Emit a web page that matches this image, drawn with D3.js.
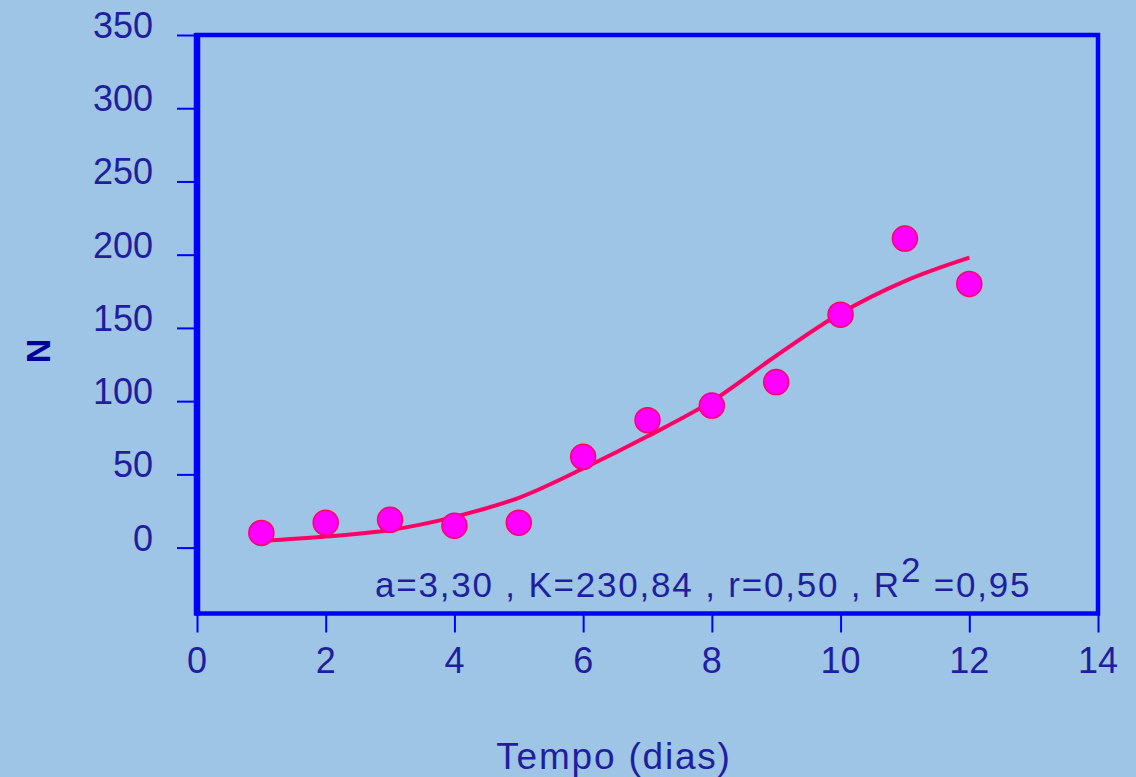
<!DOCTYPE html>
<html>
<head>
<meta charset="utf-8">
<script src="https://cdn.jsdelivr.net/npm/d3@7"></script>
<style>
  html, body { margin: 0; padding: 0; background: #9ec4e6; }
  svg { display: block; }
  text { font-family: "Liberation Sans", Arial, sans-serif; fill: #1f1f9e; }
</style>
</head>
<body>
<div id="chart"></div>
<script>
// data
var days = [1, 2, 3, 4, 5, 6, 7, 8, 9, 10, 11, 12];
var observed = [10, 17, 19, 15, 17, 62, 87, 97, 113, 159, 211, 180];
var fitted = [4.5, 7.5, 12, 21, 34, 54, 76, 100, 131, 160, 182, 198];
var xTicks = [0, 2, 4, 6, 8, 10, 12, 14];
var yTicks = [0, 50, 100, 150, 200, 250, 300, 350];
var xTitle = "Tempo (dias)";
var yTitle = "N";

var W = 1136, H = 777;

var svg = d3.select("#chart").append("svg")
    .attr("width", W)
    .attr("height", H);

// scales
var x = d3.scaleLinear().domain([0, 14]).range([197, 1098]);
var y = d3.scaleLinear().domain([-45, 350]).range([613.5, 35]);

// axes (ticks only, labels drawn separately)
var xAxis = d3.axisBottom(x).tickValues(xTicks).tickSize(19).tickFormat("");
var yAxis = d3.axisLeft(y).tickValues(yTicks).tickSize(20).tickFormat("");

var gx = svg.append("g").attr("transform", "translate(0," + y.range()[0] + ")").call(xAxis);
var gy = svg.append("g").attr("transform", "translate(" + x.range()[0] + ",0)").call(yAxis);
[gx, gy].forEach(function(g) {
  g.select(".domain").remove();
  g.selectAll(".tick line").attr("stroke", "#0000ff").attr("stroke-width", 2);
});

// tick labels
svg.append("g").selectAll("text").data(xTicks).enter().append("text")
    .attr("x", function(d) { return x(d); })
    .attr("y", 673)
    .attr("text-anchor", "middle")
    .style("font-size", "36px")
    .text(function(d) { return d; });

svg.append("g").selectAll("text").data(yTicks).enter().append("text")
    .attr("x", 153)
    .attr("y", function(d) { return y(d) + 3; })
    .attr("text-anchor", "end")
    .style("font-size", "36px")
    .text(function(d) { return d; });

// plot frame
var x0 = x.range()[0], x1 = x.range()[1], y0 = y.range()[0], y1 = y.range()[1];
svg.append("rect")
    .attr("x", x0).attr("y", y1)
    .attr("width", x1 - x0).attr("height", y0 - y1)
    .attr("fill", "none")
    .attr("stroke", "#0000ff")
    .attr("stroke-width", 4.5);
svg.append("line")
    .attr("x1", x0).attr("x2", x0)
    .attr("y1", y1 - 2).attr("y2", y0 + 2)
    .attr("stroke", "#0000ff")
    .attr("stroke-width", 6.5);

// fitted curve
var line = d3.line()
    .x(function(d, i) { return x(days[i]); })
    .y(function(d) { return y(d); })
    .curve(d3.curveMonotoneX);

svg.append("path")
    .datum(fitted)
    .attr("d", line)
    .attr("fill", "none")
    .attr("stroke", "#ff0066")
    .attr("stroke-width", 4);

// observed points
svg.append("g").selectAll("circle").data(observed).enter().append("circle")
    .attr("cx", function(d, i) { return x(days[i]); })
    .attr("cy", function(d) { return y(d); })
    .attr("r", 12.5)
    .attr("fill", "#ff00ff")
    .attr("stroke", "#ff0066")
    .attr("stroke-width", 1.5);

// equation annotation
var eq = svg.append("text")
    .attr("x", 375)
    .attr("y", 597)
    .style("font-size", "35px")
    .style("letter-spacing", "1.8px");
eq.append("tspan").text("a=3,30 , K=230,84 , r=0,50 , R");
eq.append("tspan").attr("dy", -15).text("2");
eq.append("tspan").attr("dy", 15).text(" =0,95");

// axis titles
svg.append("text")
    .attr("x", 614)
    .attr("y", 769)
    .attr("text-anchor", "middle")
    .style("font-size", "37px")
    .style("letter-spacing", "1.8px")
    .text(xTitle);

svg.append("text")
    .attr("transform", "translate(50,351) rotate(-90)")
    .attr("text-anchor", "middle")
    .style("font-size", "34px")
    .style("font-weight", "bold")
    .style("fill", "#000099")
    .text(yTitle);
</script>
</body>
</html>
